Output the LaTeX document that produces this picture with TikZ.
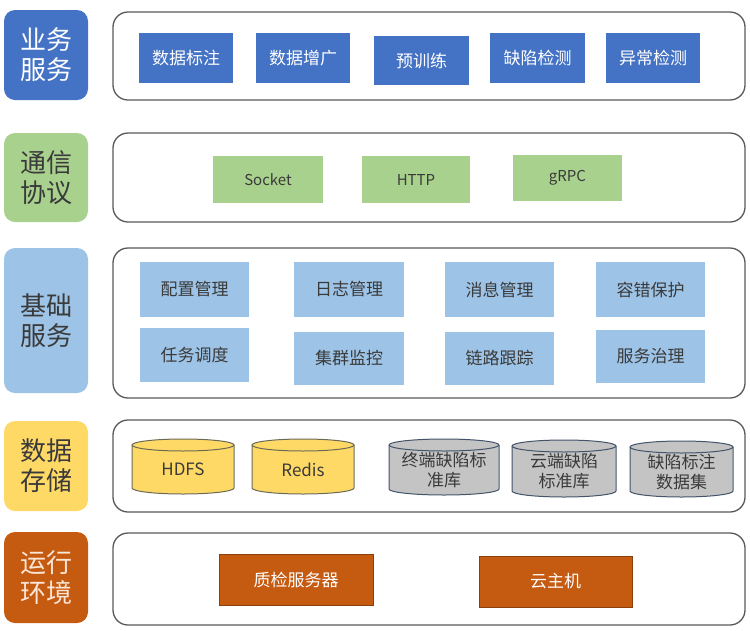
\documentclass[tikz,border=0pt]{standalone}
\usepackage{fontspec}
\newfontfamily\cjk{Noto Sans CJK SC}
\definecolor{cblue}{HTML}{4472C4}
\definecolor{cgreen}{HTML}{A9D18E}
\definecolor{clblue}{HTML}{9DC3E6}
\definecolor{cyellow}{HTML}{FFD966}
\definecolor{corange}{HTML}{C55A11}
\definecolor{cgray}{HTML}{C4C4C4}
\definecolor{ctext}{HTML}{3A3A3A}
\definecolor{cframe}{HTML}{5A5A5A}
\definecolor{cpeach}{HTML}{FBE5D6}
\definecolor{cgrayedge}{HTML}{44546A}
\definecolor{cyedge}{HTML}{6B6B55}
\newcommand\bx[7]{\node[#6,minimum width={(#4-#2)*1pt},minimum height={(#5-#3)*1pt}] (#1) at ({(#2+#4)/2},{(#3+#5)/2}) {#7};}
\newcommand\cylnode[8]{%
  \fill[#6] (#2,{#3+6}) rectangle (#4,{#5-6});
  \fill[#6] ({(#2+#4)/2},{#5-6}) ellipse [x radius={(#4-#2)/2}, y radius=6];
  \draw[#7,line width=1pt] (#2,{#3+6}) -- (#2,{#5-6}) arc[start angle=180,end angle=0,x radius={(#4-#2)/2},y radius=6] -- (#4,{#3+6});
  \draw[#7,line width=1pt,fill=#6] ({(#2+#4)/2},{#3+6}) ellipse [x radius={(#4-#2)/2}, y radius=6];
  \node[cyltext] (#1) at ({(#2+#4)/2},{(#3+#5)/2+3}) {#8};}
\begin{document}
\begin{tikzpicture}[x=1pt,y=-1pt,
  lab/.style={rounded corners=11pt,inner sep=0pt,align=center,font=\cjk\fontsize{26}{30}\selectfont},
  frame/.style={draw=cframe,line width=1.3pt,rounded corners=15pt,inner sep=0pt},
  bluebox/.style={fill=cblue,text=white,inner sep=0pt,font=\cjk\fontsize{17}{20}\selectfont},
  greenbox/.style={fill=cgreen,text=ctext,inner sep=0pt,font=\cjk\fontsize{15}{18}\selectfont},
  lbbox/.style={fill=clblue,text=ctext,inner sep=0pt,font=\cjk\fontsize{17}{20}\selectfont},
  orbox/.style={fill=corange,draw=corange!70!black,line width=0.6pt,text=white,inner sep=0pt,font=\cjk\fontsize{17}{20}\selectfont},
  cyltext/.style={text=ctext,inner sep=0pt,align=center,font=\cjk\fontsize{17}{20}\selectfont}]
\fill[white] (0,0) rectangle (750,630);
\useasboundingbox (0,0) rectangle (750,630);
% left labels
\bx{l1}{4}{10}{88}{100}{lab,fill=cblue,text=white}{业务\\服务}
\bx{l2}{4}{133}{88}{222}{lab,fill=cgreen,text=ctext}{通信\\协议}
\bx{l3}{4}{248}{88}{393}{lab,fill=clblue,text=ctext}{基础\\服务}
\bx{l4}{4}{421}{88}{511}{lab,fill=cyellow,text=ctext}{数据\\存储}
\bx{l5}{4}{532}{88}{623}{lab,fill=corange,text=cpeach}{运行\\环境}
% containers
\bx{c1}{113}{12}{745}{100}{frame}{}
\bx{c2}{113}{133}{745}{222}{frame}{}
\bx{c3}{113}{248}{745}{398}{frame}{}
\bx{c4}{113}{420}{745}{512}{frame}{}
\bx{c5}{113}{533}{745}{625}{frame}{}
% row 1
\bx{b1}{139}{33}{233}{83}{bluebox}{数据标注}
\bx{b2}{256}{33}{350}{83}{bluebox}{数据增广}
\bx{b3}{374}{36}{469}{85}{bluebox}{预训练}
\bx{b4}{490}{33}{585}{83}{bluebox}{缺陷检测}
\bx{b5}{606}{33}{700}{83}{bluebox}{异常检测}
% row 2
\bx{g1}{213}{156}{323}{203}{greenbox}{Socket}
\bx{g2}{362}{156}{470}{203}{greenbox}{HTTP}
\bx{g3}{513}{155}{622}{201}{greenbox}{gRPC}
% row 3
\bx{s1}{140}{262}{249}{317}{lbbox}{配置管理}
\bx{s2}{294}{262}{404}{317}{lbbox}{日志管理}
\bx{s3}{445}{262}{554}{317}{lbbox}{消息管理}
\bx{s4}{596}{262}{705}{317}{lbbox}{容错保护}
\bx{s5}{140}{328}{249}{382}{lbbox}{任务调度}
\bx{s6}{294}{332}{404}{385}{lbbox}{集群监控}
\bx{s7}{445}{332}{554}{385}{lbbox}{链路跟踪}
\bx{s8}{596}{330}{705}{383}{lbbox}{服务治理}
% row 4
\cylnode{d1}{132}{439}{234}{494}{cyellow}{cyedge}{HDFS}
\cylnode{d2}{252}{439}{354}{494}{cyellow}{cyedge}{Redis}
\cylnode{d3}{389}{439}{499}{495}{cgray}{cgrayedge}{终端缺陷标\\准库}
\cylnode{d4}{512}{440}{616}{497}{cgray}{cgrayedge}{云端缺陷\\标准库}
\cylnode{d5}{630}{441}{733}{497}{cgray}{cgrayedge}{缺陷标注\\数据集}
% row 5
\bx{r1}{219}{554}{373}{605}{orbox}{质检服务器}
\bx{r2}{479}{556}{632}{607}{orbox}{云主机}
\end{tikzpicture}
\end{document}
